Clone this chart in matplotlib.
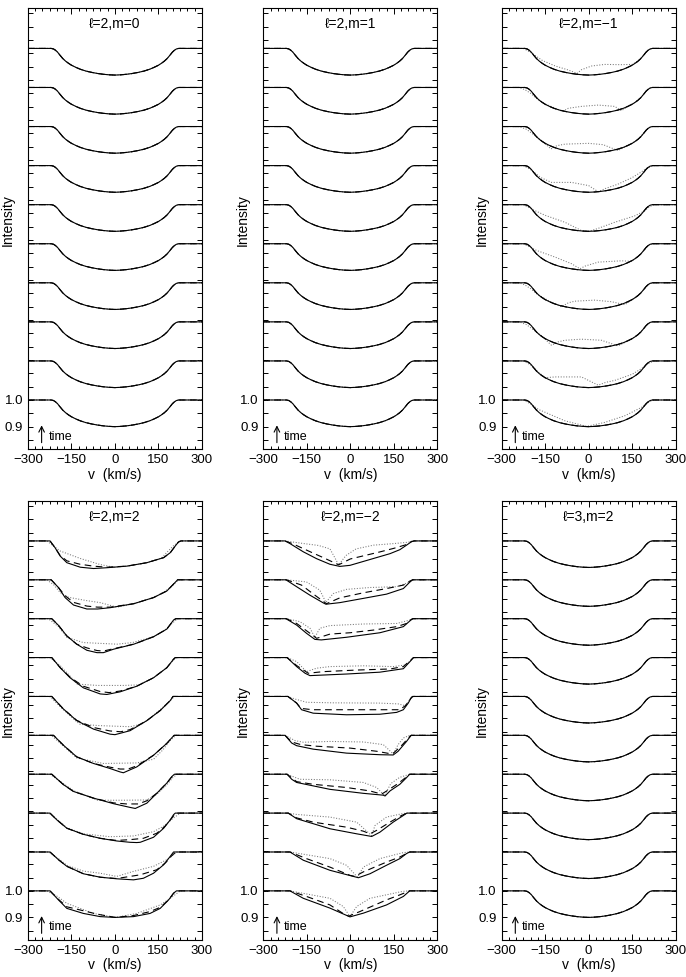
import numpy as np
import matplotlib.pyplot as plt

plt.rcParams['font.family'] = ['Liberation Sans', 'DejaVu Sans']

# unperturbed line profile: velocity (km/s) and depth in units of 0.1 below continuum
base_v = [-230, -220, -212, -205, -198, -190, -180, -170, -160, -150, -135, -120, -100, -80, -60, -40, -20, 0,
          20, 40, 60, 80, 100, 120, 135, 150, 160, 170, 180, 190, 198, 205, 212, 220, 230]
base_d = [0, 0, 0.02, 0.07, 0.14, 0.25, 0.38, 0.48, 0.56, 0.63, 0.71, 0.78, 0.85, 0.9, 0.94, 0.97, 0.99, 1.0,
          0.99, 0.97, 0.94, 0.9, 0.85, 0.78, 0.71, 0.63, 0.56, 0.48, 0.38, 0.25, 0.14, 0.07, 0.02, 0, 0]
base = list(zip(base_v, base_d))

# l=2, m=-1 : dotted profiles (top to bottom); solid and dashed follow the base profile
m1n_dot = [
    [(-225, 0), (-200, 0.15), (-160, 0.45), (-115, 0.66), (-70, 0.81), (-40, 0.94), (-25, 0.8), (10, 0.66), (55, 0.6),
     (110, 0.61), (150, 0.6), (170, 0.48), (190, 0.25), (205, 0.07), (220, 0)],
    [(-240, 0), (-220, 0.08), (-200, 0.22), (-175, 0.45), (-150, 0.62), (-100, 0.85), (-90, 0.9), (-70, 0.78),
     (-25, 0.71), (33, 0.66), (90, 0.71), (113, 0.87), (135, 0.71), (160, 0.56), (180, 0.38), (198, 0.14), (212, 0.02), (220, 0)],
    [(-240, 0), (-215, 0.1), (-190, 0.3), (-160, 0.55), (-130, 0.84), (-110, 0.72), (-82, 0.66), (0, 0.63), (50, 0.68),
     (101, 0.9), (125, 0.77), (150, 0.63), (170, 0.48), (190, 0.25), (205, 0.07), (220, 0)],
    [(-225, 0), (-200, 0.15), (-165, 0.45), (-128, 0.63), (-59, 0.63), (0, 0.75), (33, 0.98), (60, 0.85), (100, 0.7),
     (150, 0.45), (180, 0.25), (200, 0.1), (225, 0)],
    [(-225, 0), (-190, 0.2), (-150, 0.4), (-82, 0.66), (-25, 0.97), (0, 1.0), (30, 0.9), (90, 0.66), (159, 0.42),
     (190, 0.25), (210, 0.08), (225, 0)],
    [(-225, 0), (-180, 0.25), (-116, 0.5), (-59, 0.75), (-30, 0.94), (-13, 0.84), (33, 0.69), (113, 0.64), (147, 0.66),
     (165, 0.53), (180, 0.38), (190, 0.25), (205, 0.07), (220, 0)],
    [(-240, 0), (-220, 0.08), (-200, 0.22), (-175, 0.45), (-130, 0.72), (-94, 0.9), (-70, 0.75), (-48, 0.69), (21, 0.65),
     (79, 0.71), (125, 0.82), (150, 0.63), (170, 0.48), (190, 0.25), (205, 0.07), (220, 0)],
    [(-240, 0), (-215, 0.1), (-190, 0.3), (-160, 0.55), (-128, 0.88), (-105, 0.75), (-82, 0.69), (-25, 0.65), (44, 0.69),
     (101, 0.9), (125, 0.77), (150, 0.63), (170, 0.48), (190, 0.25), (205, 0.07), (220, 0)],
    [(-225, 0), (-200, 0.15), (-170, 0.45), (-151, 0.63), (-116, 0.6), (-25, 0.6), (33, 0.91), (60, 0.8), (90, 0.73),
     (150, 0.5), (182, 0.29), (205, 0.1), (225, 0)],
    [(-225, 0), (-200, 0.15), (-174, 0.35), (-82, 0.78), (-7, 0.99), (56, 0.84), (125, 0.59), (182, 0.28), (210, 0.06), (225, 0)],
]

# l=2, m=2 (top to bottom)
m2_solid = [
    [(-224, 0), (-207, 0.25), (-189, 0.57), (-166, 0.82), (-120, 0.99), (-74, 1.04), (-28, 1.01), (41, 0.95), (110, 0.82),
     (168, 0.63), (191, 0.44), (208, 0.19), (219, 0.04), (228, 0)],
    [(-220, 0), (-195, 0.29), (-172, 0.67), (-143, 0.95), (-97, 1.1), (-60, 1.1), (-16, 1.05), (65, 0.9), (133, 0.67),
     (179, 0.42), (202, 0.16), (216, 0)],
    [(-218, 0), (-195, 0.25), (-166, 0.65), (-132, 0.96), (-97, 1.19), (-62, 1.28), (-40, 1.28), (-5, 1.15), (65, 0.96),
     (133, 0.68), (179, 0.39), (202, 0.05), (210, 0)],
    [(-218, 0), (-189, 0.38), (-155, 0.76), (-109, 1.14), (-51, 1.37), (-28, 1.39), (18, 1.29), (75, 1.08), (133, 0.76),
     (179, 0.38), (202, 0.06), (208, 0)],
    [(-218, 0), (-178, 0.47), (-132, 0.91), (-74, 1.23), (-17, 1.42), (0, 1.44), (52, 1.29), (110, 0.91), (156, 0.53),
     (191, 0.15), (200, 0)],
    [(-212, 0), (-178, 0.37), (-132, 0.81), (-74, 1.06), (-17, 1.25), (18, 1.38), (29, 1.41), (75, 1.19), (133, 0.75),
     (179, 0.3), (197, 0.08), (204, 0)],
    [(-218, 0), (-178, 0.39), (-143, 0.65), (-74, 0.9), (-5, 1.11), (52, 1.25), (70, 1.29), (110, 1.09), (145, 0.71),
     (179, 0.33), (197, 0.08), (205, 0)],
    [(-224, 0), (-201, 0.25), (-166, 0.57), (-109, 0.8), (-51, 0.95), (6, 1.05), (52, 1.1), (75, 1.11), (87, 1.1),
     (133, 0.91), (168, 0.57), (191, 0.25), (202, 0.06), (208, 0)],
    [(-224, 0), (-195, 0.29), (-166, 0.54), (-109, 0.82), (-51, 0.95), (6, 1.01), (64, 1.05), (98, 0.99), (133, 0.8),
     (168, 0.48), (191, 0.16), (202, 0)],
    [(-224, 0), (-195, 0.34), (-166, 0.66), (-109, 0.85), (-51, 0.97), (1, 1.0), (64, 0.97), (121, 0.85), (156, 0.66),
     (185, 0.34), (202, 0.09), (212, 0)],
]
m2_dash = [
    [(-224, 0), (-207, 0.25), (-189, 0.55), (-166, 0.75), (-120, 0.88), (-74, 0.95), (-28, 0.99), (41, 0.95), (110, 0.82),
     (168, 0.63), (191, 0.44), (208, 0.19), (219, 0.04), (228, 0)],
    [(-220, 0), (-195, 0.29), (-172, 0.6), (-143, 0.85), (-97, 0.99), (-60, 1.03), (-16, 1.03), (65, 0.9), (133, 0.67),
     (179, 0.42), (202, 0.16), (216, 0)],
    [(-218, 0), (-195, 0.25), (-166, 0.65), (-132, 0.96), (-97, 1.1), (-62, 1.2), (-40, 1.22), (-5, 1.13), (65, 0.96),
     (133, 0.68), (179, 0.39), (202, 0.05), (210, 0)],
    [(-218, 0), (-189, 0.38), (-155, 0.74), (-109, 1.08), (-51, 1.28), (-20, 1.32), (18, 1.26), (75, 1.08), (133, 0.76),
     (179, 0.38), (202, 0.06), (208, 0)],
    [(-218, 0), (-178, 0.47), (-132, 0.9), (-74, 1.17), (-17, 1.3), (20, 1.33), (52, 1.25), (110, 0.91), (156, 0.53),
     (191, 0.15), (200, 0)],
    [(-212, 0), (-178, 0.37), (-132, 0.81), (-74, 1.06), (-17, 1.2), (18, 1.27), (45, 1.27), (75, 1.15), (133, 0.75),
     (179, 0.3), (197, 0.08), (204, 0)],
    [(-218, 0), (-178, 0.39), (-143, 0.65), (-74, 0.9), (-5, 1.08), (40, 1.12), (80, 1.12), (110, 1.0), (145, 0.71),
     (179, 0.33), (197, 0.08), (205, 0)],
    [(-224, 0), (-201, 0.25), (-166, 0.57), (-109, 0.8), (-51, 0.95), (6, 1.03), (52, 1.0), (98, 0.95), (144, 0.76),
     (172, 0.5), (195, 0.2), (210, 0)],
    [(-224, 0), (-195, 0.29), (-166, 0.54), (-109, 0.82), (-51, 0.95), (6, 1.0), (64, 0.9), (87, 0.86), (144, 0.67),
     (175, 0.4), (195, 0.15), (210, 0)],
    [(-224, 0), (-195, 0.32), (-166, 0.6), (-120, 0.72), (-60, 0.88), (1, 1.0), (64, 0.93), (121, 0.78), (156, 0.62),
     (185, 0.34), (202, 0.09), (212, 0)],
]
m2_dot = [
    [(-235, 0), (-189, 0.38), (-120, 0.66), (-51, 0.89), (-5, 0.99), (41, 0.95), (110, 0.82), (160, 0.65), (180, 0.42),
     (200, 0.2), (225, 0)],
    [(-235, 0), (-210, 0.2), (-189, 0.48), (-160, 0.66), (-100, 0.78), (-51, 0.86), (7, 1.03), (65, 0.9), (133, 0.67),
     (170, 0.45), (195, 0.25), (220, 0)],
    [(-230, 0), (-195, 0.3), (-166, 0.7), (-109, 0.9), (7, 0.96), (60, 0.9), (133, 0.68), (170, 0.45), (200, 0.15), (215, 0)],
    [(-225, 0), (-189, 0.3), (-155, 0.7), (-130, 1.0), (-60, 1.05), (30, 1.05), (81, 1.03), (133, 0.76), (179, 0.38),
     (205, 0.06), (212, 0)],
    [(-225, 0), (-178, 0.5), (-132, 0.95), (-120, 1.05), (-51, 1.1), (52, 1.14), (90, 1.05), (110, 0.91), (156, 0.5),
     (191, 0.15), (205, 0)],
    [(-220, 0), (-178, 0.4), (-132, 0.85), (-40, 1.06), (75, 1.04), (133, 0.9), (165, 0.55), (190, 0.2), (210, 0)],
    [(-225, 0), (-178, 0.35), (-143, 0.62), (-60, 0.98), (30, 0.98), (110, 0.97), (145, 0.75), (179, 0.4), (200, 0.12), (215, 0)],
    [(-228, 0), (-201, 0.22), (-166, 0.55), (-109, 0.78), (-17, 0.89), (64, 0.86), (133, 0.7), (170, 0.48), (200, 0.2), (225, 0)],
    [(-228, 0), (-195, 0.25), (-166, 0.5), (-109, 0.72), (-51, 0.8), (6, 0.92), (64, 0.73), (133, 0.54), (179, 0.29), (214, 0)],
    [(-235, 0), (-200, 0.2), (-166, 0.47), (-74, 0.85), (1, 1.0), (75, 0.85), (156, 0.53), (191, 0.28), (225, 0)],
]

# l=2, m=-2 (top to bottom)
m2n_solid = [
    [(-225, 0), (-208, 0.1), (-162, 0.41), (-116, 0.67), (-70, 0.88), (-36, 0.96), (-1, 0.92), (68, 0.7), (137, 0.48),
     (171, 0.33), (194, 0.16), (211, 0.03), (220, 0)],
    [(-222, 0), (-185, 0.26), (-139, 0.58), (-93, 0.87), (-84, 0.92), (-36, 0.86), (45, 0.7), (125, 0.54), (183, 0.33),
     (206, 0.08), (215, 0)],
    [(-222, 0), (-185, 0.24), (-151, 0.55), (-122, 0.78), (-100, 0.8), (-13, 0.7), (102, 0.53), (183, 0.3), (206, 0.08), (215, 0)],
    [(-218, 0), (-185, 0.34), (-156, 0.59), (-139, 0.68), (-13, 0.62), (102, 0.55), (183, 0.42), (206, 0.15), (218, 0)],
    [(-215, 0), (-185, 0.25), (-168, 0.5), (-128, 0.63), (-13, 0.69), (102, 0.67), (160, 0.6), (183, 0.5), (200, 0.25),
     (211, 0.03), (218, 0)],
    [(-225, 0), (-202, 0.29), (-185, 0.39), (-128, 0.52), (-13, 0.67), (102, 0.73), (148, 0.74), (165, 0.6), (194, 0.23), (210, 0)],
    [(-218, 0), (-202, 0.19), (-185, 0.31), (-70, 0.57), (45, 0.72), (114, 0.79), (120, 0.82), (137, 0.63), (171, 0.38),
     (194, 0.13), (205, 0)],
    [(-214, 0), (-185, 0.21), (-70, 0.59), (22, 0.78), (74, 0.88), (102, 0.72), (148, 0.34), (183, 0.09), (195, 0)],
    [(-208, 0), (-162, 0.31), (-70, 0.69), (28, 0.97), (68, 0.82), (125, 0.5), (171, 0.25), (194, 0.06), (205, 0)],
    [(-208, 0), (-162, 0.28), (-70, 0.65), (-1, 0.98), (45, 0.84), (125, 0.53), (183, 0.21), (205, 0)],
]
m2n_dash = [
    [(-225, 0), (-200, 0.1), (-140, 0.4), (-95, 0.62), (-40, 0.9), (0, 0.68), (50, 0.55), (100, 0.42), (150, 0.28),
     (190, 0.15), (210, 0.03), (220, 0)],
    [(-220, 0), (-168, 0.2), (-122, 0.58), (-82, 0.9), (-36, 0.68), (45, 0.49), (125, 0.33), (183, 0.2), (205, 0.05), (215, 0)],
    [(-220, 0), (-185, 0.18), (-139, 0.55), (-116, 0.74), (-70, 0.58), (-1, 0.53), (79, 0.43), (160, 0.3), (194, 0.18),
     (210, 0.03), (218, 0)],
    [(-218, 0), (-185, 0.3), (-145, 0.59), (-93, 0.53), (22, 0.47), (137, 0.43), (183, 0.34), (206, 0.12), (218, 0)],
    [(-215, 0), (-185, 0.25), (-170, 0.45), (-130, 0.5), (100, 0.5), (170, 0.5), (190, 0.35), (205, 0.12), (215, 0)],
    [(-225, 0), (-202, 0.25), (-170, 0.35), (-116, 0.41), (-1, 0.48), (91, 0.6), (137, 0.69), (150, 0.66), (180, 0.35),
     (200, 0.1), (210, 0)],
    [(-218, 0), (-185, 0.28), (-128, 0.38), (-13, 0.5), (68, 0.63), (108, 0.75), (130, 0.6), (165, 0.35), (194, 0.1), (205, 0)],
    [(-214, 0), (-185, 0.18), (-128, 0.34), (-13, 0.53), (45, 0.68), (68, 0.78), (91, 0.65), (137, 0.34), (175, 0.1), (195, 0)],
    [(-208, 0), (-151, 0.25), (-70, 0.57), (-1, 0.88), (16, 0.92), (45, 0.75), (125, 0.38), (171, 0.19), (195, 0.05), (205, 0)],
    [(-208, 0), (-151, 0.21), (-70, 0.53), (-18, 0.9), (-5, 0.95), (33, 0.78), (125, 0.34), (171, 0.15), (205, 0)],
]
m2n_dot = [
    [(-225, 0), (-160, 0.1), (-110, 0.17), (-70, 0.3), (-40, 0.9), (-15, 0.55), (20, 0.3), (80, 0.16), (150, 0.1),
     (200, 0.05), (215, 0)],
    [(-220, 0), (-151, 0.08), (-105, 0.39), (-84, 0.85), (-59, 0.52), (-13, 0.36), (68, 0.29), (160, 0.26), (206, 0.08), (215, 0)],
    [(-220, 0), (-174, 0.11), (-139, 0.36), (-122, 0.7), (-105, 0.36), (-70, 0.26), (45, 0.2), (160, 0.18), (206, 0.05), (215, 0)],
    [(-218, 0), (-185, 0.15), (-151, 0.53), (-116, 0.4), (-70, 0.34), (45, 0.31), (148, 0.34), (189, 0.28), (211, 0.09), (218, 0)],
    [(-215, 0), (-190, 0.1), (-150, 0.22), (-60, 0.24), (100, 0.25), (165, 0.28), (190, 0.35), (205, 0.12), (215, 0)],
    [(-225, 0), (-190, 0.2), (-162, 0.26), (-70, 0.23), (45, 0.25), (114, 0.35), (148, 0.7), (165, 0.35), (183, 0.1), (205, 0)],
    [(-218, 0), (-174, 0.19), (-70, 0.21), (45, 0.31), (91, 0.5), (118, 0.8), (140, 0.35), (170, 0.12), (205, 0)],
    [(-214, 0), (-185, 0.05), (-70, 0.15), (22, 0.34), (74, 0.85), (85, 0.47), (125, 0.15), (180, 0.02), (195, 0)],
    [(-208, 0), (-70, 0.25), (-13, 0.5), (25, 0.95), (45, 0.57), (102, 0.25), (180, 0.03), (205, 0)],
    [(-208, 0), (-70, 0.28), (-24, 0.59), (-1, 0.97), (22, 0.59), (68, 0.28), (180, 0.02), (205, 0)],
]

titles = ['\u2113=2,m=0', '\u2113=2,m=1', '\u2113=2,m=\u22121',
          '\u2113=2,m=2', '\u2113=2,m=\u22122', '\u2113=3,m=2']
same = [base] * 10
panels = [
    (same, same, same),
    (same, same, same),
    (same, same, m1n_dot),
    (m2_solid, m2_dash, m2_dot),
    (m2n_solid, m2n_dash, m2n_dot),
    (same, same, same),
]

step = 0.1465
lefts = [0.0408, 0.3838, 0.7313]
rows = [(0.5401, 0.4517), (0.0379, 0.4496)]

fig = plt.figure(figsize=(6.86, 9.77), dpi=100)


def draw(ax, pts, c, **kw):
    v = [-300] + [p[0] for p in pts] + [300]
    y = [c] + [c - 0.1 * p[1] for p in pts] + [c]
    ax.plot(v, y, **kw)


for k in range(6):
    bottom, height = rows[k // 3]
    ax = fig.add_axes([lefts[k % 3], bottom, 0.2536, height])
    solid, dashed, dotted = panels[k]
    for i in range(10):
        c = 1.0 + (9 - i) * step
        draw(ax, dotted[i], c, color='#777777', lw=0.75, ls=(0, (1, 1.6)))
        draw(ax, dashed[i], c, color='black', lw=0.8, ls=(0, (6, 4)))
        draw(ax, solid[i], c, color='black', lw=0.8)

    ax.set_xlim(-300, 300)
    ax.set_ylim(0.815, 2.47)
    ax.set_xticks([-300, -150, 0, 150, 300])
    ax.set_xticks(np.arange(-300, 301, 25), minor=True)
    yt = np.round(np.arange(0.85, 2.46, 0.05), 2)
    ax.set_yticks(yt, labels=['1.0' if t == 1.0 else '0.9' if t == 0.9 else '' for t in yt])
    ax.tick_params(which='both', direction='in', top=True, right=True, width=0.7, labelsize=9.5)
    ax.tick_params(which='major', length=4)
    ax.tick_params(which='minor', length=2.5)
    ax.tick_params(axis='y', length=3.5)
    for s in ax.spines.values():
        s.set_linewidth(0.8)

    ax.set_xlabel('v  (km/s)', fontsize=10, labelpad=1)
    ax.set_ylabel('Intensity', fontsize=10)
    ax.yaxis.set_label_coords(-0.075, 0.52)
    ax.text(0.5, 0.963, titles[k], transform=ax.transAxes, ha='center', va='center', fontsize=10)

    ax.annotate('', xy=(-253, 0.905), xytext=(-253, 0.84),
                arrowprops=dict(arrowstyle='->', lw=0.8, color='black', shrinkA=0, shrinkB=0))
    ax.text(-230, 0.862, 'time', fontsize=9, va='center', ha='left')

fig.savefig('out.png', dpi=100)
